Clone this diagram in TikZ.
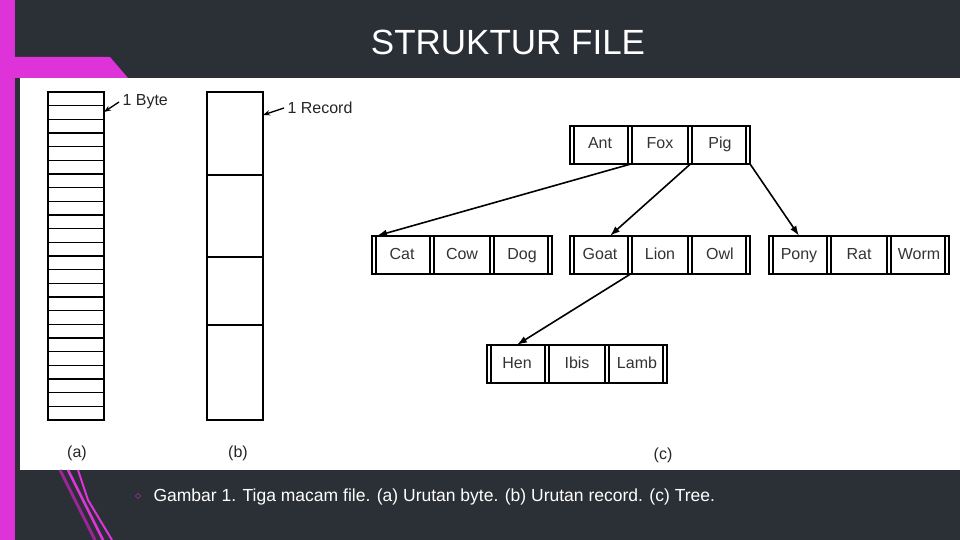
\documentclass[tikz,border=0pt]{standalone}
\usepackage{fontspec}
\setmainfont{Liberation Sans}
\usetikzlibrary{arrows.meta}
\begin{document}
\begin{tikzpicture}[x=1pt,y=-1pt,
  cell/.style={minimum width=60pt,minimum height=38pt,inner sep=0pt,text height=11pt,text depth=3pt,font=\fontsize{16}{18}\selectfont,text=black!80},
  lbl/.style={font=\fontsize{16}{18}\selectfont,text=black!85},
  arr/.style={-{Latex[length=10pt,width=7pt]},line width=1.6pt},
  ln/.style={line width=1.3pt}]
\definecolor{bg}{HTML}{2B2F36}
\definecolor{mag}{HTML}{DD33D8}
\useasboundingbox (0,0) rectangle (960,540);
\fill[bg] (0,0) rectangle (960,540);
\fill[mag] (0,0) rectangle (15,540);
\fill[mag] (15,57) -- (110,57) -- (128,78) -- (15,78) -- cycle;
\fill[white] (20,78) rectangle (960,470);
\draw[mag!70!black,line width=3pt] (60,470) -- (95,540);
\draw[mag,line width=2.5pt] (68,470) -- (103,540);
\draw[mag,line width=2pt] (78,470) -- (88,500) -- (112,540);
\node[font=\fontsize{35}{40}\selectfont,text=white] (title) at (508,42) {STRUKTUR FILE};
% (a)
\draw[ln] (48,92) rectangle (104,420);
\foreach \i in {1,...,23} \draw[line width=1.1pt] (48,{92+\i*328/24}) -- (104,{92+\i*328/24});
\coordinate (bytept) at (104,112);
\node[lbl,anchor=west] (byte) at (119,102) {1 Byte};
\draw[ln,-{Stealth[length=7pt]}] (byte.west) -- (bytept);
% (b)
\draw[ln] (207,92) rectangle (263,420);
\foreach \yy in {175,257,325} \draw[ln] (207,\yy) -- (263,\yy);
\coordinate (recpt) at (263,115);
\node[lbl,anchor=west] (rec) at (284,108) {1 Record};
\draw[ln,-{Stealth[length=7pt]}] (rec.west) -- (recpt);
\node[lbl] (la) at (77,453) {(a)};
\node[lbl] (lb) at (238,453) {(b)};
\node[lbl] (lc) at (663,455) {(c)};
% tree
\newcommand\tgroup[6]{%
  \node[cell] (#1a) at ({#2+30},#3) {#4};
  \node[cell] (#1b) at ({#2+90},#3) {#5};
  \node[cell] (#1c) at ({#2+150},#3) {#6};
  \draw[ln] (#2,{#3-19}) rectangle ({#2+180},{#3+19});
  \foreach \xx in {4,58,62,118,122,176}
    \draw[ln] ({#2+\xx},{#3-19}) -- ({#2+\xx},{#3+19});
}
\tgroup{r}{570}{145}{Ant}{Fox}{Pig}
\tgroup{p}{372}{255}{Cat}{Cow}{Dog}
\tgroup{q}{570}{255}{Goat}{Lion}{Owl}
\tgroup{s}{769}{255}{Pony}{Rat}{Worm}
\tgroup{h}{487}{364}{Hen}{Ibis}{Lamb}
\draw[arr] (ra.south east) -- ([xshift=-25pt]pa.north);
\draw[arr] (rb.south east) -- ([xshift=10pt]qa.north);
\draw[arr] (rc.south east) -- (sa.north);
\draw[arr] (qa.south east) -- (ha.north);
% caption
\node[text=mag,font=\fontsize{12}{13}\selectfont] (dia) at (138,497) {$\diamond$};
\node[anchor=west,text=white,font=\fontsize{17.5}{20}\selectfont] (cap) at (150,497) {Gambar 1. Tiga macam file. (a) Urutan byte. (b) Urutan record. (c) Tree.};
\end{tikzpicture}
\end{document}
